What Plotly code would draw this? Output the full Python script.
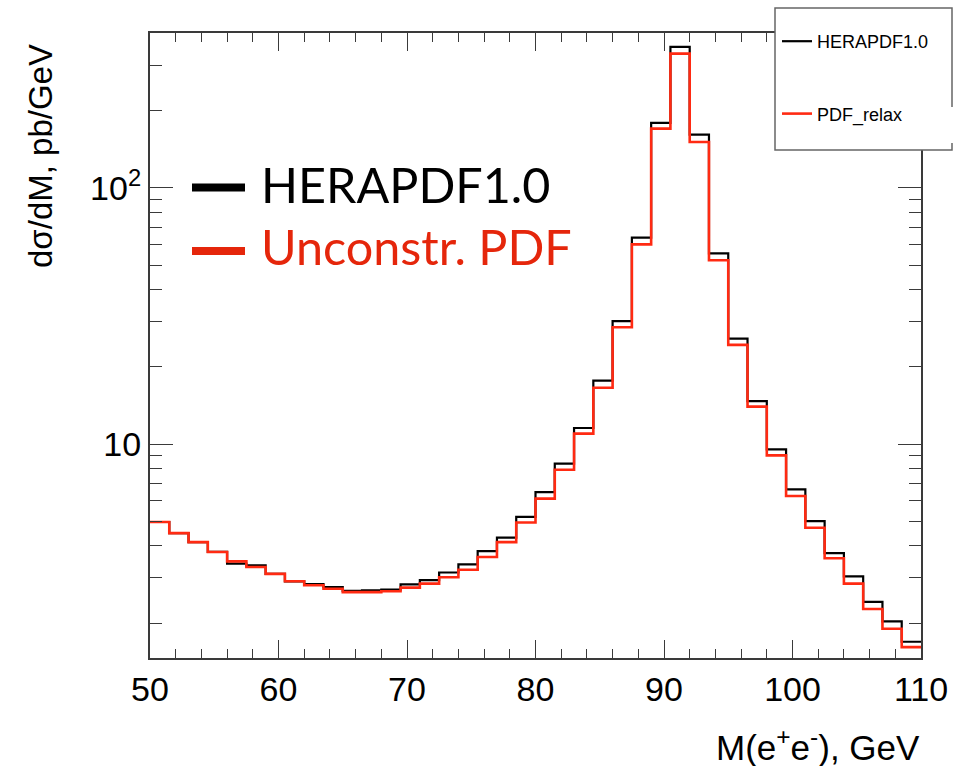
import plotly.graph_objects as go

# Dilepton invariant mass spectrum, 1.5 GeV bins from 50 to 110 GeV
bin_lo = 50.0
bin_width = 1.5
n_bins = 40

herapdf = [4.96, 4.49, 4.14, 3.79, 3.41, 3.36, 3.11, 2.91, 2.84, 2.76,
           2.67, 2.68, 2.70, 2.83, 2.94, 3.15, 3.39, 3.82, 4.31, 5.19,
           6.49, 8.38, 11.55, 17.7, 30.2, 64.0, 179.6, 355.6, 161.6, 55.5,
           25.8, 14.7, 9.53, 6.65, 5.00, 3.75, 3.04, 2.42, 2.03, 1.69]

pdf_relax = [4.96, 4.49, 4.14, 3.79, 3.48, 3.31, 3.11, 2.91, 2.81, 2.72,
             2.64, 2.64, 2.66, 2.75, 2.85, 3.02, 3.23, 3.62, 4.14, 4.94,
             6.12, 7.94, 10.98, 16.6, 28.6, 60.2, 170.6, 334.9, 151.2, 52.2,
             24.4, 14.0, 9.03, 6.27, 4.71, 3.58, 2.85, 2.27, 1.90, 1.61]

x_ticks = [50, 60, 70, 80, 90, 100, 110]
y_ticks = [10, 100]
y_tick_text = ["10", "10<sup>2</sup>"]
y_minor = [2, 3, 4, 5, 6, 7, 8, 9, 20, 30, 40, 50, 60, 70, 80, 90, 200, 300, 400]

edges = [bin_lo + i * bin_width for i in range(n_bins + 1)]

BLACK = "#000000"
RED_LINE = "#ff2a12"
RED_TEXT = "#e5260b"
FRAME = "#3a3a3a"
ROOT_FONT = "Liberation Sans, Arial, sans-serif"
BIG_FONT = "Lato, Open Sans, sans-serif"

fig = go.Figure()
fig.add_trace(go.Scatter(x=edges, y=herapdf + [herapdf[-1]], mode="lines",
                         line=dict(color=BLACK, width=2.2, shape="hv"),
                         name="HERAPDF1.0", legendgroup="a"))
fig.add_trace(go.Scatter(x=edges, y=pdf_relax + [pdf_relax[-1]], mode="lines",
                         line=dict(color=RED_LINE, width=2.6, shape="hv"),
                         name="PDF_relax", legendgroup="b"))

L, R, T, B = 150, 44, 33, 108
W, H = 965, 766
pw, ph = W - L - R, H - T - B


def px(xp):
    return (xp - L) / pw


def py(yp):
    return (H - B - yp) / ph


shapes = [
    # ROOT legend box
    dict(type="rect", xref="paper", yref="paper", layer="above",
         x0=px(775), x1=px(952), y0=py(150), y1=py(8),
         line=dict(color="#666666", width=1.5), fillcolor="white"),
    dict(type="rect", xref="paper", yref="paper", layer="above",
         x0=px(944), x1=px(956), y0=py(143), y1=py(107),
         line=dict(width=0), fillcolor="white"),
    # hand-drawn key dashes
    dict(type="line", xref="paper", yref="paper", layer="above",
         x0=px(192), x1=px(245), y0=py(187.5), y1=py(187.5),
         line=dict(color=BLACK, width=8)),
    dict(type="line", xref="paper", yref="paper", layer="above",
         x0=px(192), x1=px(245), y0=py(251), y1=py(251),
         line=dict(color=RED_TEXT, width=8)),
]

annotations = [
    dict(text="HERAPDF1.0", xref="paper", yref="paper", x=px(259), y=py(184),
         xanchor="left", yanchor="middle", showarrow=False,
         font=dict(family=BIG_FONT, size=48.5, color=BLACK)),
    dict(text="Unconstr. PDF", xref="paper", yref="paper", x=px(259), y=py(246),
         xanchor="left", yanchor="middle", showarrow=False,
         font=dict(family=BIG_FONT, size=48.5, color=RED_TEXT)),
    dict(text="M(e<sup>+</sup>e<sup>-</sup>), GeV", xref="paper", yref="paper",
         x=px(922), y=py(745), xanchor="right", yanchor="middle", showarrow=False,
         font=dict(family=ROOT_FONT, size=35, color=BLACK)),
    dict(text="d\u03c3/dM, pb/GeV", xref="paper", yref="paper",
         x=px(40), y=py(156), xanchor="center", yanchor="middle", showarrow=False,
         textangle=-90, font=dict(family=ROOT_FONT, size=33, color=BLACK)),
]

fig.update_layout(
    width=W, height=H,
    margin=dict(l=L, r=R, t=T, b=B, pad=0),
    paper_bgcolor="white", plot_bgcolor="white",
    showlegend=True,
    legend=dict(x=px(777), y=py(23), xanchor="left", yanchor="top",
                bgcolor="rgba(0,0,0,0)", borderwidth=0,
                tracegroupgap=46, traceorder="grouped",
                font=dict(family=ROOT_FONT, size=18, color=BLACK)),
    shapes=shapes,
    annotations=annotations,
)

fig.update_xaxes(
    range=[50, 110], tickvals=x_ticks, ticks="inside", ticklen=18, tickwidth=1.3,
    tickcolor=FRAME, showline=True, linecolor=FRAME, linewidth=2, mirror="ticks",
    showgrid=False, zeroline=False,
    tickfont=dict(family=ROOT_FONT, size=34, color=BLACK),
    minor=dict(dtick=2, tick0=50, ticks="inside", ticklen=9, tickcolor=FRAME,
               tickwidth=1.3, showgrid=False),
)
fig.update_yaxes(
    type="log", range=[0.1644, 2.6053], tickvals=y_ticks, ticktext=y_tick_text,
    ticks="inside", ticklen=23, tickwidth=1.3, tickcolor=FRAME,
    showline=True, linecolor=FRAME, linewidth=2, mirror="ticks",
    showgrid=False, zeroline=False,
    tickfont=dict(family=ROOT_FONT, size=34, color=BLACK),
    minor=dict(tickvals=y_minor, ticks="inside", ticklen=12, tickcolor=FRAME,
               tickwidth=1.3, showgrid=False),
)

fig.write_html("out.html")
